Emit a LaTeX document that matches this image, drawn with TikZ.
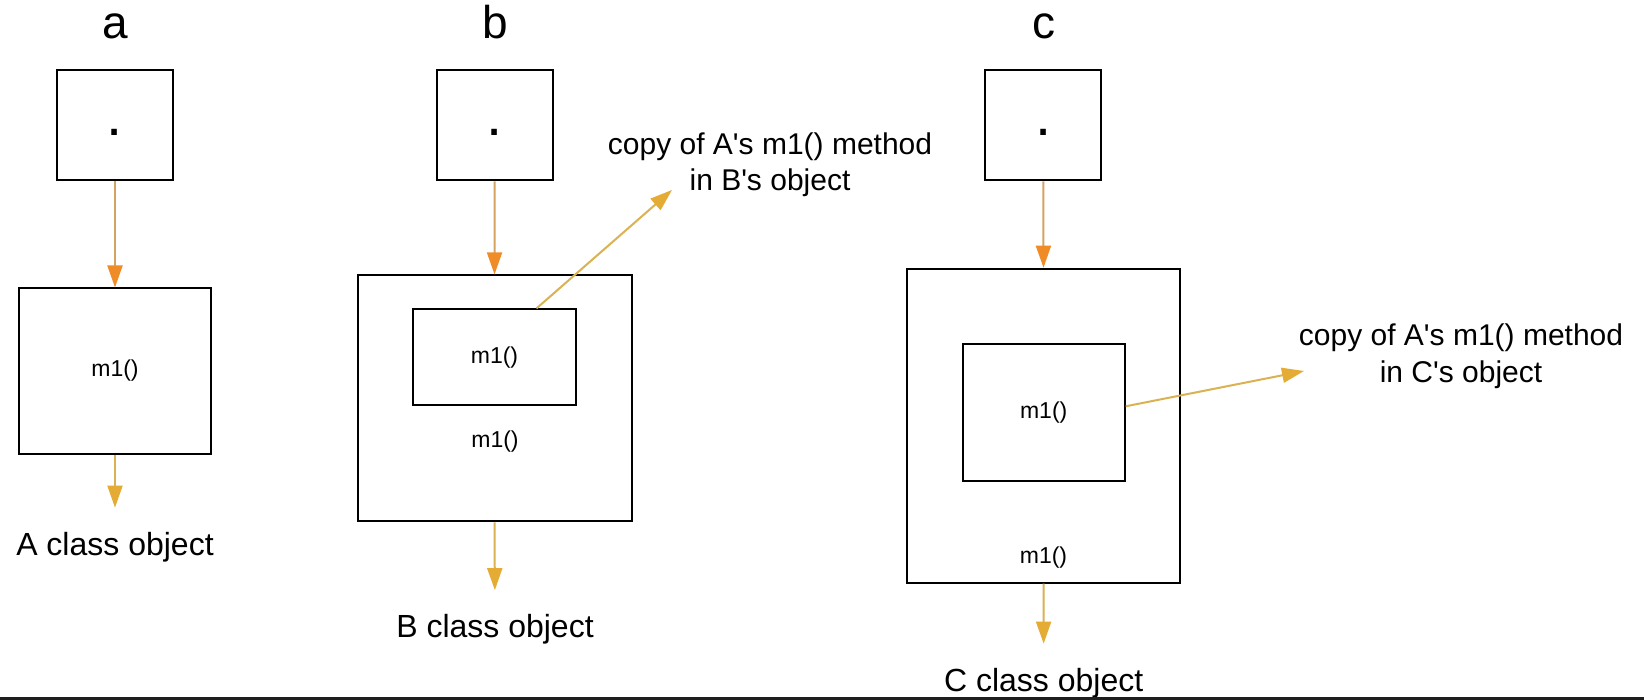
\documentclass[tikz,border=0pt]{standalone}
\usepackage{fontspec}
\setmainfont{Liberation Sans}[Ligatures=TeXOff]
\usetikzlibrary{arrows.meta}
\definecolor{tanshaft}{RGB}{214,162,96}
\definecolor{orangehead}{RGB}{240,140,40}
\definecolor{goldshaft}{RGB}{218,178,82}
\definecolor{goldhead}{RGB}{228,172,52}
\definecolor{barcol}{RGB}{30,30,30}
\tikzset{
  box/.style={draw=black, line width=2pt, inner sep=0pt, font=\fontsize{23pt}{27pt}\selectfont},
  topbox/.style={box, minimum width=116pt, minimum height=110pt},
  inarrow/.style={draw=tanshaft, line width=2pt, -{Triangle[length=22pt,width=15pt,color=orangehead]}},
  outarrow/.style={draw=goldshaft, line width=2pt, -{Triangle[length=22pt,width=15pt,color=goldhead]}},
  panel/.style={font=\fontsize{46pt}{55pt}\selectfont, anchor=base, inner sep=0pt},
  objlabel/.style={font=\fontsize{32pt}{38pt}\selectfont, anchor=base, inner sep=0pt},
  copylabel/.style={font=\fontsize{30pt}{36.5pt}\selectfont, align=center, inner sep=0pt},
  mlabel/.style={font=\fontsize{23pt}{27pt}\selectfont, inner sep=0pt},
  dotmark/.style={font=\fontsize{58pt}{60pt}\selectfont, anchor=base, inner sep=0pt},
}
\begin{document}
\begin{tikzpicture}[x=1pt,y=-1pt]
\useasboundingbox (0,0) rectangle (1644,700);
\fill[white] (0,0) rectangle (1644,700);

% ---------- panel a ----------
\node[panel] (la) at (115,39) {a};
\node[topbox] (atop) at (115,125.3) {};
\node[dotmark] (adot) at (115,136) {.};
\node[box, minimum width=192pt, minimum height=165pt] (abox) at (115,371) {m1()};
\node[objlabel] (aobj) at (115,555) {A class object};
\draw[inarrow] (atop.south) -- (abox.north);
\draw[outarrow, shorten >=24pt] (abox.south) -- (aobj.north);

% ---------- panel b ----------
\node[panel] (lb) at (495,39) {b};
\node[topbox] (btop) at (494.7,125.5) {};
\node[dotmark] (bdot) at (495,136) {.};
\node[box, minimum width=274pt, minimum height=246pt] (bout) at (494.5,398.4) {};
\node[box, minimum width=163pt, minimum height=96pt] (bin) at (494.5,357.4) {m1()};
\node[mlabel] (bm) at (495,442) {m1()};
\node[objlabel] (bobj) at (495,637.5) {B class object};
\node[copylabel] (bcopy) at (770,164.5) {copy of A's m1() method\\in B's object};
\coordinate (btip) at (672,190);
\draw[inarrow] (btop.south) -- (bout.north);
\draw[outarrow, shorten >=24pt] (bout.south) -- (bobj.north);
\draw[outarrow] ([xshift=42pt]bin.north) -- (btip);

% ---------- panel c ----------
\node[panel] (lc) at (1044,39) {c};
\node[topbox] (ctop) at (1043.3,125.5) {};
\node[dotmark] (cdot) at (1043.5,136) {.};
\node[box, minimum width=273pt, minimum height=314pt] (cout) at (1043.5,425.7) {};
\node[box, minimum width=162pt, minimum height=137pt] (cin) at (1043.7,412.3) {m1()};
\node[mlabel] (cm) at (1043.5,557.5) {m1()};
\node[objlabel] (cobj) at (1043.7,691) {C class object};
\node[copylabel] (ccopy) at (1461,356) {copy of A's m1() method\\in C's object};
\coordinate (ctip) at (1304,371);
\draw[inarrow] (ctop.south) -- (cout.north);
\draw[outarrow, shorten >=24pt] (cout.south) -- (cobj.north);
\draw[outarrow] ([yshift=6pt]cin.east) -- (ctip);

% bottom edge bar
\fill[barcol] (0,697) rectangle (1644,700);
\end{tikzpicture}
\end{document}
